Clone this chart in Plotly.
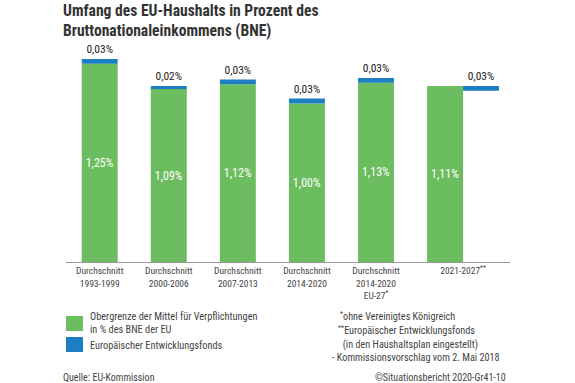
import plotly.graph_objects as go

categories = ["Durchschnitt<br>1993-1999", "Durchschnitt<br>2000-2006", "Durchschnitt<br>2007-2013",
              "Durchschnitt<br>2014-2020", "Durchschnitt<br>2014-2020<br>EU-27<sup>*</sup>", "2021-2027<sup>**</sup>"]
obergrenze = [1.25, 1.09, 1.12, 1.00, 1.13, 1.11]
edf = [0.03, 0.02, 0.03, 0.03, 0.03, 0.03]
edf_separate = [False, False, False, False, False, True]

GREEN = "#6cbd5f"
BLUE = "#1c7fc2"
TXT = "#444444"
FONT = "Liberation Sans Narrow, Roboto Condensed, DejaVu Sans Condensed, Roboto, sans-serif"
W = 0.52
FW, FH = 575, 383


def PX(x):
    return x / FW


def PY(y):
    return 1 - y / FH


def fmt(v):
    return f"{v:.2f}".replace(".", ",") + "%"


xs = list(range(len(categories)))
fig = go.Figure()
fig.add_bar(x=xs, y=obergrenze, width=W, marker=dict(color=GREEN, line=dict(width=0)),
            text=[fmt(v) for v in obergrenze], textposition="inside", insidetextanchor="middle",
            textfont=dict(color="white", size=12, family=FONT), showlegend=False, hoverinfo="skip")

bx, by, bb = [], [], []
for i, (g, e, sep) in enumerate(zip(obergrenze, edf, edf_separate)):
    if sep:
        bx.append(i + W)
        bb.append(g - e)
    else:
        bx.append(i)
        bb.append(g)
    by.append(e)
fig.add_bar(x=bx, y=by, base=bb, width=W, marker=dict(color=BLUE, line=dict(width=0)),
            text=[fmt(v) for v in edf], textposition="outside",
            textfont=dict(color="#222222", size=11.5, family=FONT), showlegend=False,
            cliponaxis=False, hoverinfo="skip")

tickvals = [i + (W / 2 if s else 0) for i, s in enumerate(edf_separate)]

fig.update_layout(
    width=FW, height=FH, margin=dict(l=0, r=0, t=0, b=0),
    paper_bgcolor="white", plot_bgcolor="white", barmode="overlay",
    font=dict(family=FONT, color=TXT, size=10),
    xaxis=dict(domain=[PX(66), PX(510)], range=[-0.488, 5.94], tickvals=tickvals, ticktext=categories,
               showgrid=False, zeroline=False, showline=True, linecolor="#9a9a9a", linewidth=1,
               ticks="", tickfont=dict(size=9.5, color=TXT, family=FONT)),
    yaxis=dict(domain=[PY(262), PY(32)], range=[0, 1.45], visible=False),
)

fig.add_annotation(text="<b>Umfang des EU-Haushalts in Prozent des<br>Bruttonationaleinkommens (BNE)</b>",
                   xref="paper", yref="paper", x=PX(61), y=PY(21), xanchor="left", yanchor="middle",
                   align="left", showarrow=False, font=dict(size=15.6, color="#333333", family=FONT))

# legend
for y0, col in [(316, GREEN), (337, BLUE)]:
    fig.add_shape(type="rect", xref="paper", yref="paper", x0=PX(66), x1=PX(83),
                  y0=PY(y0 + 15), y1=PY(y0), fillcolor=col, line=dict(width=0))
fig.add_annotation(text="Obergrenze der Mittel für Verpflichtungen<br>in % des BNE der EU", xref="paper", yref="paper",
                   x=PX(88), y=PY(323), xanchor="left", yanchor="middle", align="left", showarrow=False,
                   font=dict(size=10.3, color=TXT))
fig.add_annotation(text="Europäischer Entwicklungsfonds", xref="paper", yref="paper",
                   x=PX(88), y=PY(345), xanchor="left", yanchor="middle", align="left", showarrow=False,
                   font=dict(size=10.3, color=TXT))

notes = [("<sup>*</sup>ohne Vereinigtes Königreich", 338, 315),
         ("<sup>**</sup>Europäischer Entwicklungsfonds<br>  (in den Haushaltsplan eingestellt)", 336, 337),
         ("- Kommissionsvorschlag vom 2. Mai 2018", 330, 357)]
for t, xx, yy in notes:
    fig.add_annotation(text=t, xref="paper", yref="paper", x=PX(xx), y=PY(yy), xanchor="left",
                       yanchor="middle", align="left", showarrow=False, font=dict(size=10.2, color=TXT))

fig.add_annotation(text="Quelle: EU-Kommission", xref="paper", yref="paper", x=PX(61), y=PY(377),
                   xanchor="left", yanchor="middle", showarrow=False, font=dict(size=10, color=TXT))
fig.add_annotation(text="©Situationsbericht 2020-Gr41-10", xref="paper", yref="paper", x=PX(508), y=PY(377),
                   xanchor="right", yanchor="middle", showarrow=False, font=dict(size=10, color=TXT))

fig.write_html("out.html", config={"displayModeBar": False},
               post_script="document.body.style.margin='0';document.body.style.padding='0';")
